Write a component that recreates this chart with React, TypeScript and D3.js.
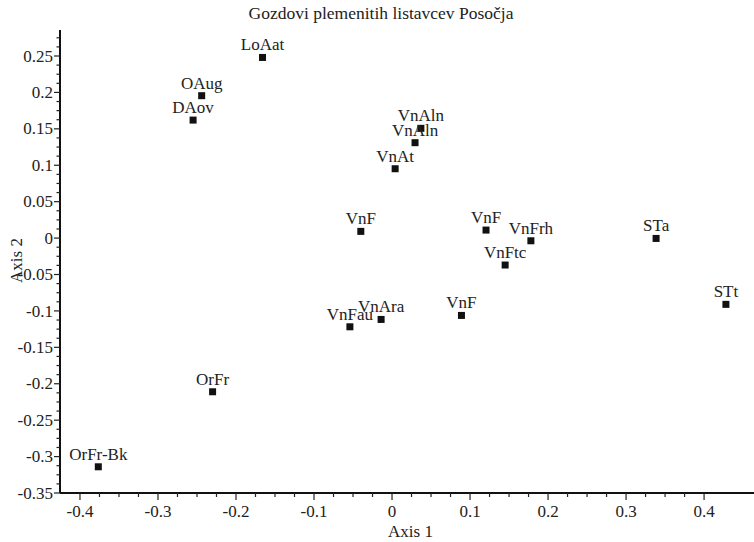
import React from "react";
import * as d3 from "d3";

const labels = ["LoAat", "OAug", "DAov", "VnAln", "VnAln", "VnAt", "VnF", "VnF", "VnFrh", "VnFtc", "STa", "STt", "VnFau", "VnAra", "VnF", "OrFr", "OrFr-Bk"];
const axis1 = [-0.166, -0.244, -0.255, 0.037, 0.0295, 0.004, -0.040, 0.1205, 0.178, 0.145, 0.3385, 0.428, -0.054, -0.014, 0.089, -0.230, -0.3765];
const axis2 = [0.248, 0.1955, 0.162, 0.1507, 0.131, 0.0952, 0.0092, 0.011, -0.0037, -0.037, -0.0005, -0.091, -0.1218, -0.1117, -0.1062, -0.211, -0.314];

const xMajor = [-0.4, -0.3, -0.2, -0.1, 0, 0.1, 0.2, 0.3, 0.4];
const yMajor = [0.25, 0.2, 0.15, 0.1, 0.05, 0, -0.05, -0.1, -0.15, -0.2, -0.25, -0.3, -0.35];

const title = "Gozdovi plemenitih listavcev Posočja";
const xTitle = "Axis 1";
const yTitle = "Axis 2";

const W = 754;
const H = 542;
const FONT = "Liberation Serif, Times New Roman, serif";

function fmt(v: number) {
  const r = Math.round(v * 1000) / 1000;
  return r === 0 ? "0" : String(r);
}

export default function App() {
  const x = d3.scaleLinear().domain([-0.4256, 0.464]).range([60, 754]);
  const y = d3.scaleLinear().domain([-0.35, 0.2857]).range([493, 30]);

  const xMinor = d3.range(-0.4, 0.4001, 0.025).filter((v) => !xMajor.some((m) => Math.abs(m - v) < 1e-6));
  const yMinor = d3.range(-0.35, 0.28, 0.0125).filter((v) => !yMajor.some((m) => Math.abs(m - v) < 1e-6));

  const [x0, x1] = x.range();
  const [yb, yt] = y.range();
  const ts = { fontFamily: FONT };

  return (
    <svg width={W} height={H} style={{ position: "absolute", left: 0, top: 0, background: "#fff", fontFamily: FONT }}>
      <rect x={0} y={0} width={W} height={H} fill="#fff" />
      <text style={ts} x={381} y={18.5} textAnchor="middle" fontSize={17.5} fill="#222">{title}</text>

      {/* x axis */}
      <line x1={x0} x2={x1} y1={yb} y2={yb} stroke="#111" strokeWidth={2} />
      {xMajor.map((v, i) => (
        <g key={"xm" + i}>
          <line x1={x(v)} x2={x(v)} y1={yb} y2={yb + 7} stroke="#222" strokeWidth={1.2} />
          <text style={ts} x={x(v)} y={517} textAnchor="middle" fontSize={17} fill="#222">{fmt(v)}</text>
        </g>
      ))}
      {xMinor.map((v, i) => (
        <line key={"xn" + i} x1={x(v)} x2={x(v)} y1={yb} y2={yb + 4} stroke="#222" strokeWidth={1.2} />
      ))}
      <text style={ts} x={410.5} y={537} textAnchor="middle" fontSize={17} fill="#222">{xTitle}</text>

      {/* y axis */}
      <line x1={x0} x2={x0} y1={yb} y2={yt} stroke="#111" strokeWidth={2} />
      {yMajor.map((v, i) => (
        <g key={"ym" + i}>
          <line x1={x0} x2={x0 - 6} y1={y(v)} y2={y(v)} stroke="#222" strokeWidth={1.2} />
          <text style={ts} x={53} y={y(v)} dy="0.33em" textAnchor="end" fontSize={17} fill="#222">{fmt(v)}</text>
        </g>
      ))}
      {yMinor.map((v, i) => (
        <line key={"yn" + i} x1={x0} x2={x0 - 3.5} y1={y(v)} y2={y(v)} stroke="#222" strokeWidth={1.2} />
      ))}
      <text style={ts} transform={`translate(21.5,260.5) rotate(-90)`} textAnchor="middle" fontSize={17} fill="#222">{yTitle}</text>

      {/* points */}
      {labels.map((lab, i) => (
        <g key={"p" + i}>
          <rect x={x(axis1[i]) - 3.5} y={y(axis2[i]) - 3.5} width={7} height={7} fill="#111" />
          <text style={ts} x={x(axis1[i])} y={y(axis2[i]) - 7} textAnchor="middle" fontSize={17} fill="#222">{lab}</text>
        </g>
      ))}
    </svg>
  );
}
